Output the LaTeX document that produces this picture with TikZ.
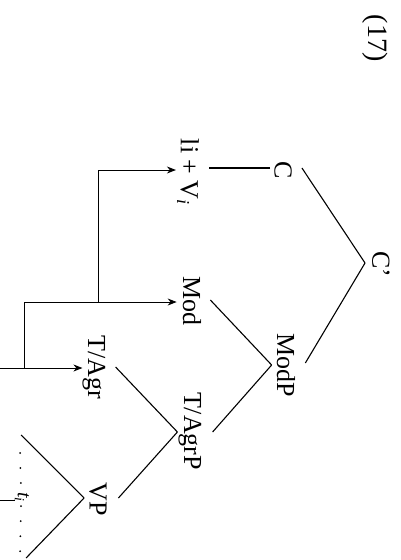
\documentclass[tikz,border=0pt]{standalone}
\usepackage{fontspec}
\setmainfont{Liberation Serif}
\usetikzlibrary{calc,arrows.meta}
\begin{document}
\begin{tikzpicture}[x=1pt,y=-1pt,
  lbl/.style={rotate=-90,inner sep=0pt,font=\fontsize{26}{30}\selectfont},
  br/.style={line width=1.1pt},
  mv/.style={line width=0.9pt,-{Stealth[length=9pt,width=7pt]}},
  dotline/.style={line width=2pt,line cap=round,dash pattern=on 0pt off 15pt}]
\useasboundingbox (0,0) rectangle (401,560);
% labels
\node[lbl,font=\fontsize{28}{32}\selectfont] (num) at (375,38) {(17)};
\node[lbl] (Cbar) at (381,264) {C’};
\node[lbl] (C) at (283,170) {C};
\node[lbl] (ModP) at (286,365) {ModP};
\node[lbl] (Mod) at (192,301) {Mod};
\node[lbl] (TAgrP) at (190,431) {T/AgrP};
\node[lbl] (TAgr) at (94,367) {T/Agr};
\node[lbl] (VP) at (98,499) {VP};
\node[lbl] (V) at (188,172) {li + V\textsubscript{\textit{i}}};
\node[lbl,font=\fontsize{20}{24}\selectfont\itshape] (t) at (22,497) {t\textsubscript{i}};
% branches
\draw[br] ($(Cbar.south)+(-7,-1)$) coordinate (cbA) -- ($(C.north)+(10,-2)$);
\draw[br] (cbA) -- ($(ModP.north)+(10,-2)$);
\draw[br] ($(C.south)+(-4,-2)$) -- ($(V.north)+(9.5,-4)$);
\draw[br] ($(ModP.south)+(-5,0)$) coordinate (mpA) -- ($(Mod.north)+(9,-1)$);
\draw[br] (mpA) -- ($(TAgrP.north)+(11,1)$);
\draw[br] ($(TAgrP.south)+(-1,1)$) coordinate (tpA) -- ($(TAgr.north)+(10,0)$);
\draw[br] (tpA) -- ($(VP.north)+(11.5,-1)$);
% VP triangle
\draw[br] ($(VP.south)+(-5,-1)$) coordinate (vpA) -- ($(vpA)+(-63,-63)$) coordinate (triT);
\draw[br] (vpA) -- ($(vpA)+(-58,60)$) coordinate (triB);
\draw[dotline] ($(triT)+(-1,18)$) -- ($(t.west)+(-1,-4)$);
\draw[dotline] ($(t.east)+(-1,4)$) -- ($(triB)+(-6,-6)$);
% movement
\coordinate (m1) at (-0.3,368);
\coordinate (j1) at (24,368);
\coordinate (j2) at (98,302);
\draw[mv] ($(t.south)+(0,3)$) -| (m1) -- ($(TAgr.south)+(0,1)$);
\draw[mv] (j1) |- ($(Mod.south)+(-6,1)$);
\draw[mv] (j2) |- ($(V.south)+(-1,-2)$);
\end{tikzpicture}
\end{document}
